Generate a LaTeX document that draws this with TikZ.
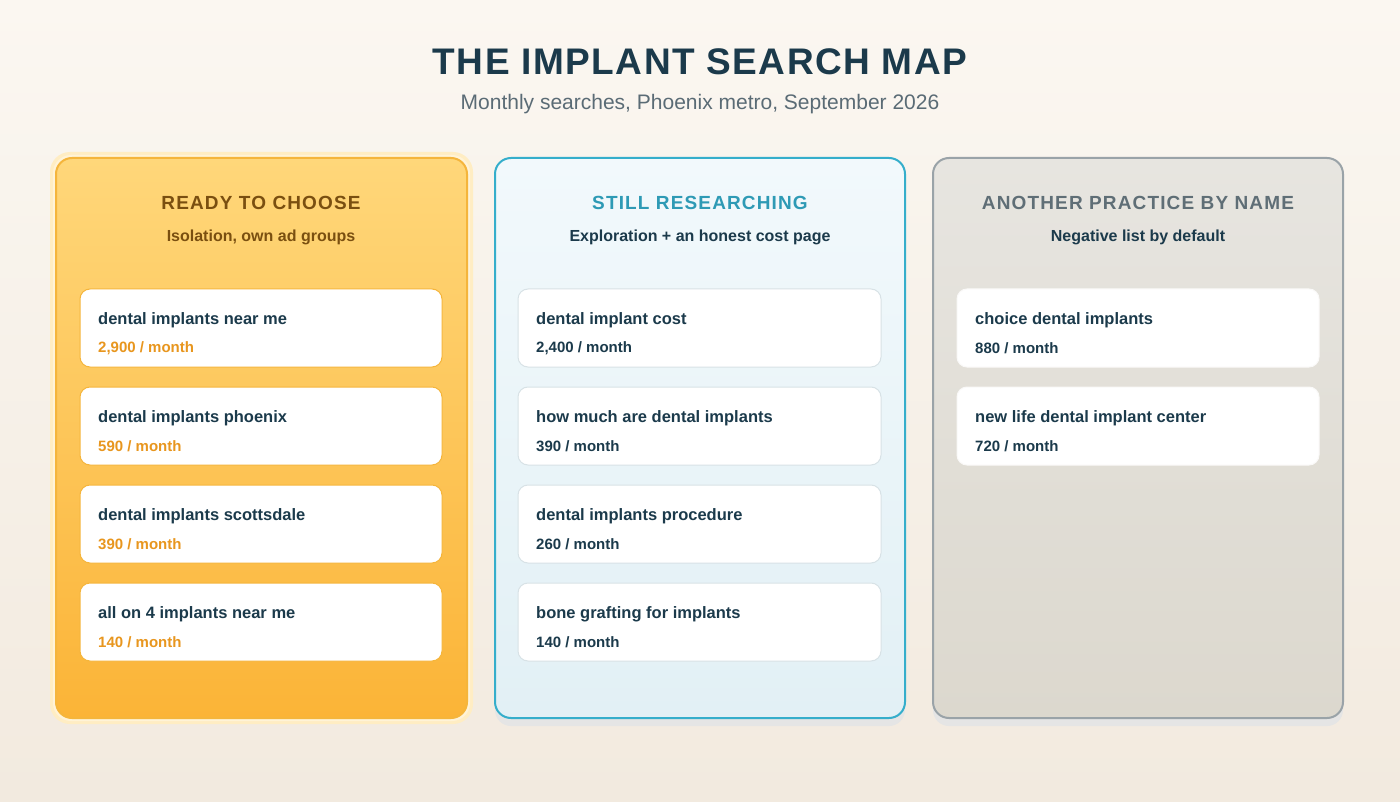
\documentclass[tikz,border=0pt]{standalone}
\usepackage{fontspec}
\setmainfont{Liberation Sans}
\definecolor{ink}{HTML}{1B3A4B}
\definecolor{sub}{HTML}{5A6B75}
\definecolor{bgT}{HTML}{FBF7F1}
\definecolor{bgB}{HTML}{F2EADF}
\definecolor{aT}{HTML}{FFD77A}\definecolor{aB}{HTML}{FBB437}
\definecolor{aBd}{HTML}{F5B53B}\definecolor{aH}{HTML}{7A4F10}\definecolor{aN}{HTML}{E8961E}
\definecolor{bT}{HTML}{F2F9FC}\definecolor{bB}{HTML}{E2F0F5}
\definecolor{bBd}{HTML}{35AECB}\definecolor{bH}{HTML}{2E9AB5}
\definecolor{cT}{HTML}{E7E5E0}\definecolor{cB}{HTML}{DCD8CE}
\definecolor{cBd}{HTML}{9AA3A8}\definecolor{cH}{HTML}{5F6E76}
\definecolor{cardBd}{HTML}{D8E2E6}
\tikzset{
 panel/.style={rounded corners=16pt,line width=2pt},
 shadowbox/.style={rounded corners=16pt,fill=black!10,draw=none},
 card/.style={rounded corners=10pt,fill=white,line width=1pt},
 head/.style={font=\bfseries\fontsize{19}{22}\selectfont\addfontfeature{LetterSpace=6},anchor=center},
 subh/.style={font=\bfseries\fontsize{16}{19}\selectfont,anchor=center},
 lab/.style={font=\bfseries\fontsize{16.5}{19}\selectfont,anchor=west,text=ink,inner sep=0pt},
 num/.style={font=\bfseries\fontsize{15}{18}\selectfont,anchor=west,inner sep=0pt},
}
\begin{document}
\begin{tikzpicture}[x=1pt,y=-1pt]
\shade[top color=bgT,bottom color=bgB] (0,0) rectangle (1400,802);
\useasboundingbox (0,0) rectangle (1400,802);
\node[font=\bfseries\fontsize{37}{40}\selectfont\addfontfeature{LetterSpace=4},text=ink] (title) at (700,62) {THE IMPLANT SEARCH MAP};
\node[font=\fontsize{21}{24}\selectfont,text=sub] (subtitle) at (700,104) {Monthly searches, Phoenix metro, September 2026};
% panel 1
\fill[rounded corners=20pt,fill=aT!45] (50,152) rectangle (473,724);
\fill[rounded corners=18pt,fill=white!70!aT] (53,155) rectangle (470,721);
\shade[panel,top color=aT,bottom color=aB,draw=aBd] (56,158) rectangle (467,718);
% panel 2
\fill[shadowbox] (495,166) rectangle (905,726);
\shade[panel,top color=bT,bottom color=bB,draw=bBd] (495,158) rectangle (905,718);
% panel 3
\fill[shadowbox] (933,166) rectangle (1343,726);
\shade[panel,top color=cT,bottom color=cB,draw=cBd] (933,158) rectangle (1343,718);
% headings
\node[head,text=aH] (h1) at (261,203) {READY TO CHOOSE};
\node[subh,text=aH] (s1) at (261,237) {Isolation, own ad groups};
\node[head,text=bH] (h2) at (700,203) {STILL RESEARCHING};
\node[subh,text=ink] (s2) at (700,237) {Exploration + an honest cost page};
\node[head,text=cH] (h3) at (1138,203) {ANOTHER PRACTICE BY NAME};
\node[subh,text=ink] (s3) at (1138,237) {Negative list by default};
% cards
\newcommand\mycard[6]{%
 \draw[card,draw=#4] (#1,#3) rectangle (#2,#3+78);
 \node[lab] at (#1+18,#3+31) {#5};
 \node[num] at (#1+18,#3+59) {#6};}
\mycard{80}{442}{289}{aBd}{dental implants near me}{\color{aN}2,900 / month}
\mycard{80}{442}{387}{aBd}{dental implants phoenix}{\color{aN}590 / month}
\mycard{80}{442}{485}{aBd}{dental implants scottsdale}{\color{aN}390 / month}
\mycard{80}{442}{583}{aBd}{all on 4 implants near me}{\color{aN}140 / month}
\mycard{518}{881}{289}{cardBd}{dental implant cost}{\color{ink}2,400 / month}
\mycard{518}{881}{387}{cardBd}{how much are dental implants}{\color{ink}390 / month}
\mycard{518}{881}{485}{cardBd}{dental implants procedure}{\color{ink}260 / month}
\mycard{518}{881}{583}{cardBd}{bone grafting for implants}{\color{ink}140 / month}
\mycard{957}{1319}{289}{white!85!cB}{choice dental implants}{\color{ink}880 / month}
\mycard{957}{1319}{387}{white!85!cB}{new life dental implant center}{\color{ink}720 / month}
\end{tikzpicture}
\end{document}
